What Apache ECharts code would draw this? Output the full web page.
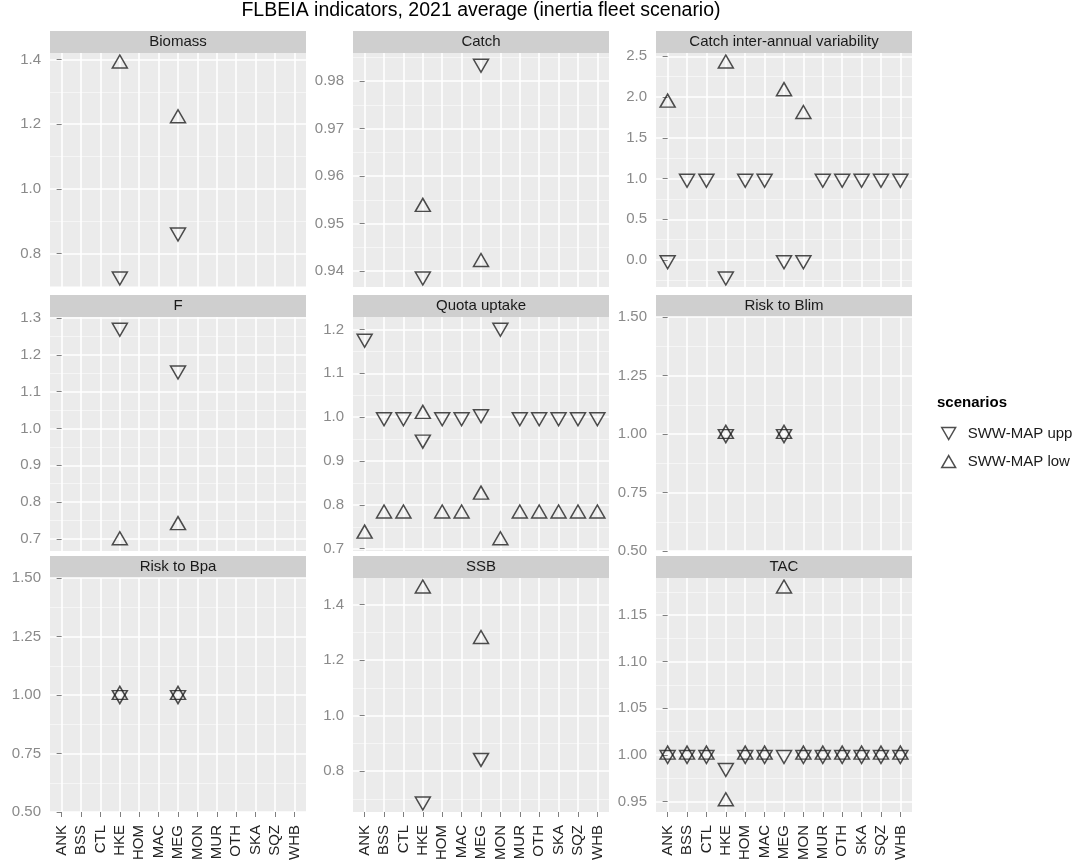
<!DOCTYPE html>
<html>
<head>
<meta charset="utf-8">
<script src="https://cdn.jsdelivr.net/npm/echarts@6/dist/echarts.min.js"></script>
<style>
  html, body { margin: 0; padding: 0; background: #fff; }
  #chart { width: 1076px; height: 863px; }
</style>
</head>
<body>
<div id="chart"></div>
<script>
// stocks on the x axis
const categories = ['ANK', 'BSS', 'CTL', 'HKE', 'HOM', 'MAC', 'MEG', 'MON', 'MUR', 'OTH', 'SKA', 'SQZ', 'WHB'];
const _ = null;

// values per indicator, one slot per stock (null = not plotted)
const biomassUpp = [_, _, _, 0.730, _, _, 0.866, _, _, _, _, _, _];
const biomassLow = [_, _, _, 1.387, _, _, 1.218, _, _, _, _, _, _];
const catchUpp = [_, _, _, 0.9389, _, _, 0.9837, _, _, _, _, _, _];
const catchLow = [_, _, _, 0.9535, _, _, 0.9419, _, _, _, _, _, _];
const ciavUpp = [0.0, 1.0, 1.0, -0.20, 1.0, 1.0, 0.0, 0.0, 1.0, 1.0, 1.0, 1.0, 1.0];
const ciavLow = [1.93, _, _, 2.41, _, _, 2.07, 1.79, _, _, _, _, _];
const fUpp = [_, _, _, 1.274, _, _, 1.158, _, _, _, _, _, _];
const fLow = [_, _, _, 0.696, _, _, 0.737, _, _, _, _, _, _];
const quotaUpp = [1.179, 1.0, 1.0, 0.949, 1.0, 1.0, 1.007, 1.204, 1.0, 1.0, 1.0, 1.0, 1.0];
const quotaLow = [0.734, 0.78, 0.78, 1.007, 0.78, 0.78, 0.823, 0.719, 0.78, 0.78, 0.78, 0.78, 0.78];
const blimUpp = [_, _, _, 1.0, _, _, 1.0, _, _, _, _, _, _];
const blimLow = [_, _, _, 1.0, _, _, 1.0, _, _, _, _, _, _];
const bpaUpp = [_, _, _, 1.0, _, _, 1.0, _, _, _, _, _, _];
const bpaLow = [_, _, _, 1.0, _, _, 1.0, _, _, _, _, _, _];
const ssbUpp = [_, _, _, 0.691, _, _, 0.848, _, _, _, _, _, _];
const ssbLow = [_, _, _, 1.457, _, _, 1.275, _, _, _, _, _, _];
const tacUpp = [1.0, 1.0, 1.0, 0.986, 1.0, 1.0, 1.0, 1.0, 1.0, 1.0, 1.0, 1.0, 1.0];
const tacLow = [1.0, 1.0, 1.0, 0.95, 1.0, 1.0, 1.1785, 1.0, 1.0, 1.0, 1.0, 1.0, 1.0];

// y tick labels per panel
const biomassTicks = [0.8, 1.0, 1.2, 1.4];
const catchTicks = [0.94, 0.95, 0.96, 0.97, 0.98];
const ciavTicks = [0.0, 0.5, 1.0, 1.5, 2.0, 2.5];
const fTicks = [0.7, 0.8, 0.9, 1.0, 1.1, 1.2, 1.3];
const quotaTicks = [0.7, 0.8, 0.9, 1.0, 1.1, 1.2];
const riskTicks = [0.5, 0.75, 1.0, 1.25, 1.5];
const ssbTicks = [0.8, 1.0, 1.2, 1.4];
const tacTicks = [0.95, 1.0, 1.05, 1.1, 1.15];

const panels = [
    { name: 'Biomass', upp: biomassUpp, low: biomassLow, ticks: biomassTicks },
    { name: 'Catch', upp: catchUpp, low: catchLow, ticks: catchTicks },
    { name: 'Catch inter-annual variability', upp: ciavUpp, low: ciavLow, ticks: ciavTicks },
    { name: 'F', upp: fUpp, low: fLow, ticks: fTicks },
    { name: 'Quota uptake', upp: quotaUpp, low: quotaLow, ticks: quotaTicks },
    { name: 'Risk to Blim', upp: blimUpp, low: blimLow, ticks: riskTicks },
    { name: 'Risk to Bpa', upp: bpaUpp, low: bpaLow, ticks: riskTicks },
    { name: 'SSB', upp: ssbUpp, low: ssbLow, ticks: ssbTicks },
    { name: 'TAC', upp: tacUpp, low: tacLow, ticks: tacTicks }
];

const FONT = '"Liberation Sans", Arial, sans-serif';
const downTri = 'path://M0,0L20,0L10,17.32Z';
const upTri = 'path://M10,0L20,17.32L0,17.32Z';
const colLeft = [50, 353, 656];
const rowTop = [53, 317, 578];
const panelW = 256, panelH = 234, stripH = 22;
const symW = 15, symH = 13;

// ggplot-like range: 5% padding, or +-0.5 when all values equal
function expandRange(a, b) {
    const v = a.concat(b).filter(x => x !== null);
    const lo = Math.min(...v), hi = Math.max(...v);
    if (hi - lo < 1e-9) return [lo - 0.5, hi + 0.5];
    const pad = (hi - lo) * 0.05;
    return [lo - pad, hi + pad];
}

function decimalsOf(ticks) {
    return Math.max(...ticks.map(t => {
        const s = String(t).split('.')[1];
        return s ? s.length : 0;
    }), 1);
}

function toPoints(arr) {
    const out = [];
    arr.forEach((v, i) => { if (v !== null) out.push([i, v]); });
    return out;
}

const catIdx = categories.map((c, i) => i);
const grids = [], xAxes = [], yAxes = [], series = [], graphics = [];

panels.forEach((p, i) => {
    const col = i % 3, row = Math.floor(i / 3);
    const left = colLeft[col], top = rowTop[row];
    const bottomRow = row === 2;
    const range = expandRange(p.upp, p.low);
    const step = p.ticks[1] - p.ticks[0];
    const minors = [p.ticks[0] - step / 2].concat(p.ticks.map(t => t + step / 2))
        .map(v => Number(v.toFixed(6)))
        .filter(v => v > range[0] && v < range[1]);
    const dec = decimalsOf(p.ticks);

    grids.push({ left: left, top: top, width: panelW, height: panelH, show: true,
        backgroundColor: '#ebebeb', borderWidth: 0 });

    xAxes.push({
        type: 'value', gridIndex: i, min: -0.6, max: 12.6,
        axisLine: { show: false },
        axisTick: { show: bottomRow, customValues: catIdx, length: 5, lineStyle: { color: '#7f7f7f' } },
        axisLabel: { show: bottomRow, customValues: catIdx, rotate: 90, margin: 13,
            fontSize: 15, color: '#222', fontFamily: FONT,
            formatter: v => categories[Math.round(v)] },
        splitLine: { show: true, lineStyle: { color: '#ffffff', width: 1.6 } }
    });

    // major y axis
    yAxes.push({
        type: 'value', gridIndex: i, min: range[0], max: range[1], position: 'left',
        axisLine: { show: false },
        axisTick: { show: true, customValues: p.ticks, length: 5, lineStyle: { color: '#7f7f7f' } },
        axisLabel: { customValues: p.ticks, margin: 9, fontSize: 15, color: '#8a8a8a', fontFamily: FONT,
            formatter: v => Number(v).toFixed(dec) },
        splitLine: { show: true, lineStyle: { color: '#ffffff', width: 1.6 } }
    });
    // minor grid lines
    yAxes.push({
        type: 'value', gridIndex: i, min: range[0], max: range[1], position: 'left',
        axisLine: { show: false },
        axisTick: { show: false, customValues: minors },
        axisLabel: { show: false },
        splitLine: { show: true, lineStyle: { color: '#f7f7f7', width: 0.8 } }
    });

    // triangles are centred on their centroid, as in R
    const mk = (name, sym, dy, data) => ({
        name: name, type: 'scatter', xAxisIndex: i, yAxisIndex: 2 * i,
        symbol: sym, symbolSize: [symW, symH], symbolOffset: [0, dy],
        data: toPoints(data), silent: true,
        itemStyle: { color: 'rgba(0,0,0,0)', borderColor: '#222', borderWidth: 1.5 }
    });
    series.push(mk('SWW-MAP upp', downTri, symH / 6, p.upp));
    series.push(mk('SWW-MAP low', upTri, -symH / 6, p.low));

    // facet strip
    graphics.push({ type: 'rect', shape: { x: left, y: top - stripH, width: panelW, height: stripH },
        style: { fill: '#cfcfcf' }, silent: true });
    graphics.push({ type: 'text', x: left + panelW / 2, y: top - stripH / 2,
        style: { text: p.name, font: '15px ' + FONT, fill: '#1a1a1a',
            textAlign: 'center', textVerticalAlign: 'middle' }, silent: true });
});

graphics.push({ type: 'text', x: 481, y: 11,
    style: { text: 'FLBEIA indicators, 2021 average (inertia fleet scenario)', font: '19.5px ' + FONT,
        fill: '#000', textAlign: 'center', textVerticalAlign: 'middle' } });
graphics.push({ type: 'text', x: 937, y: 403,
    style: { text: 'scenarios', font: 'bold 15px ' + FONT, fill: '#000',
        textAlign: 'left', textVerticalAlign: 'middle' } });

const chart = echarts.init(document.getElementById('chart'));
chart.setOption({
    animation: false,
    backgroundColor: '#ffffff',
    grid: grids,
    xAxis: xAxes,
    yAxis: yAxes,
    series: series,
    graphic: graphics,
    legend: {
        orient: 'vertical', left: 941, top: 426, padding: 0,
        itemWidth: 14, itemHeight: 12, itemGap: 13, selectedMode: false,
        textStyle: { fontSize: 15, color: '#1a1a1a', fontFamily: FONT, padding: [0, 0, 0, 7] },
        itemStyle: { color: 'rgba(0,0,0,0)', borderColor: '#222', borderWidth: 1.5 },
        data: [
            { name: 'SWW-MAP upp', icon: downTri },
            { name: 'SWW-MAP low', icon: upTri }
        ]
    }
});
</script>
</body>
</html>
